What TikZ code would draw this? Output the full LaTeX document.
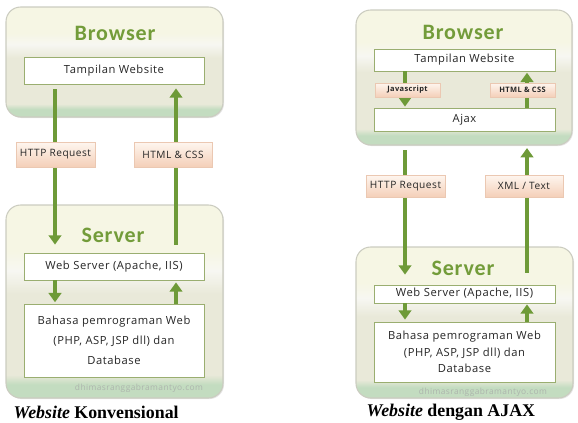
\documentclass[tikz,border=0pt]{standalone}
\usepackage{fontspec}
\setmainfont{Liberation Serif}
\newfontfamily\boxfont[LetterSpace=5]{Open Sans}
\newfontfamily\titlefont[LetterSpace=4]{Carlito}
\usetikzlibrary{arrows.meta,shadows}
\definecolor{pcream}{HTML}{F6F6E4}
\definecolor{plight}{HTML}{F7F7F2}
\definecolor{pbeige}{HTML}{E9E9D9}
\definecolor{pgreen}{HTML}{C3DCC0}
\definecolor{pborder}{HTML}{CBCCC0}
\definecolor{agreen}{HTML}{6E9A38}
\definecolor{tgreen}{HTML}{739C3A}
\definecolor{bborder}{HTML}{9AAE70}
\definecolor{ltop}{HTML}{FEF6EF}
\definecolor{lbot}{HTML}{F4CFB8}
\definecolor{lline}{HTML}{EBC8B2}
\definecolor{wmark}{HTML}{ADB5AD}
\pgfdeclareverticalshading{panelshade}{100bp}{color(0bp)=(pgreen); color(25bp)=(pgreen); color(28.5bp)=(pgreen); color(31bp)=(pbeige); color(52bp)=(pbeige); color(58bp)=(plight); color(63bp)=(pcream); color(75bp)=(pcream); color(100bp)=(pcream)}
\begin{document}
\begin{tikzpicture}[x=0.75pt,y=-0.75pt,
  panel/.style={draw=pborder, line width=0.8pt, rounded corners=11pt, shading=panelshade,
    drop shadow={shadow xshift=0.8pt, shadow yshift=-0.8pt, opacity=0.2}},
  ptitle/.style={font=\titlefont\bfseries\fontsize{16.5}{18}\selectfont, text=tgreen},
  ibox/.style={draw=bborder, line width=0.6pt, fill=white, minimum width=135pt, inner sep=0pt,
    font=\boxfont\fontsize{8.4}{15}\selectfont, text=black!85, align=center},
  lbl/.style={top color=ltop, bottom color=lbot, draw=lline, line width=0.3pt,
    inner sep=0pt, font=\boxfont\fontsize{7.6}{9}\selectfont, text=black!85,
    drop shadow={shadow xshift=1pt, shadow yshift=-1pt, opacity=0.3}},
  slbl/.style={lbl, font=\boxfont\bfseries\fontsize{5.6}{7}\selectfont},
  arr/.style={draw=agreen, line width=3pt, -{Triangle[width=9.5pt,length=7pt]}},
  wm/.style={font=\boxfont\fontsize{6.3}{7}\selectfont, text=wmark},
  captxt/.style={font=\bfseries\fontsize{13.4}{15}\selectfont, anchor=west}]
\useasboundingbox (0,0) rectangle (578,422);
% ---------------- left: konvensional ----------------
\path[panel] (6,7) rectangle (223,117);
\path[panel] (6,205) rectangle (223,398);
\node[ptitle] (bt1) at (115,33) {Browser};
\node[ptitle] (st1) at (113,235) {Server};
\coordinate (L1) at (55,0);
\coordinate (R1) at (176,0);
\node[ibox, minimum height=20.25pt] (tw1) at (114,70.5) {Tampilan Website};
\node[ibox, minimum height=20.25pt] (ws1) at (114,266.5) {Web Server (Apache, IIS)};
\node[ibox, minimum height=54.75pt] (bp1) at (114,340.5) {Bahasa pemrograman Web\\(PHP, ASP, JSP dll) dan\\Database};
\draw[arr] ([yshift=-3.75pt]tw1.south -| L1) -- ([yshift=6pt]ws1.north -| L1);
\draw[arr] ([yshift=6pt]ws1.north -| R1) -- ([yshift=-3pt]tw1.south -| R1);
\draw[arr] (ws1.south -| L1) -- ([yshift=1pt]bp1.north -| L1);
\draw[arr] (bp1.north -| R1) -- ([yshift=-1.5pt]ws1.south -| R1);
\node[lbl, minimum width=59.25pt, minimum height=18.75pt] (hr1) at (55.5,154.5) {HTTP Request};
\node[lbl, minimum width=58.5pt, minimum height=18.75pt] (hc1) at (173,154.5) {HTML \& CSS};
\node[wm] (wm1) at (139,388) {dhimasranggabramantyo.com};
\node[captxt] (cap1) at (9,412) {\textit{Website} Konvensional};
% ---------------- right: AJAX ----------------
\path[panel] (356,10) rectangle (572,145);
\path[panel] (356,247) rectangle (573,398);
\node[ptitle] (bt2) at (463,32) {Browser};
\node[ptitle] (st2) at (463,268) {Server};
\coordinate (L2) at (405,0);
\coordinate (R2) at (527,0);
\node[ibox, minimum width=135.75pt, minimum height=16.5pt] (tw2) at (464.5,60) {Tampilan Website};
\node[ibox, minimum width=135.75pt, minimum height=17.25pt] (aj2) at (464.5,119.5) {Ajax};
\node[ibox, minimum width=135.75pt, minimum height=13.5pt] (ws2) at (464.5,294) {Web Server (Apache, IIS)};
\node[ibox, minimum width=135.75pt, minimum height=45pt, font=\boxfont\fontsize{8.4}{12.4}\selectfont] (bp2) at (464.5,352) {Bahasa pemrograman Web\\(PHP, ASP, JSP dll) dan\\Database};
\draw[arr] (tw2.south -| L2) -- ([yshift=0.75pt]aj2.north -| L2);
\draw[arr] (aj2.north -| R2) -- ([yshift=-1pt]tw2.south -| R2);
\draw[arr] ([yshift=-14pt]aj2.south -| L2) -- ([yshift=7.5pt]ws2.north -| L2);
\draw[arr] ([yshift=9pt]ws2.north -| R2) -- ([yshift=-12.5pt]aj2.south -| R2);
\draw[arr] (ws2.south -| L2) -- ([yshift=1.5pt]bp2.north -| L2);
\draw[arr] (bp2.north -| R2) -- ([yshift=-0.75pt]ws2.south -| R2);
\node[slbl, minimum width=48.75pt, minimum height=10.5pt] (js2) at (407.5,90) {Javascript};
\node[slbl, minimum width=48.75pt, minimum height=10.5pt] (hc2) at (522.5,90) {HTML \& CSS};
\node[lbl, minimum width=59.25pt, minimum height=16.5pt] (hr2) at (405.5,186) {HTTP Request};
\node[lbl, minimum width=58.5pt, minimum height=16.5pt] (xt2) at (524,186) {XML / Text};
\node[wm] (wm2) at (483,392) {dhimasranggabramantyo.com};
\node[captxt] (cap2) at (362,412) {\textit{Website} dengan AJAX};
\end{tikzpicture}
\end{document}
